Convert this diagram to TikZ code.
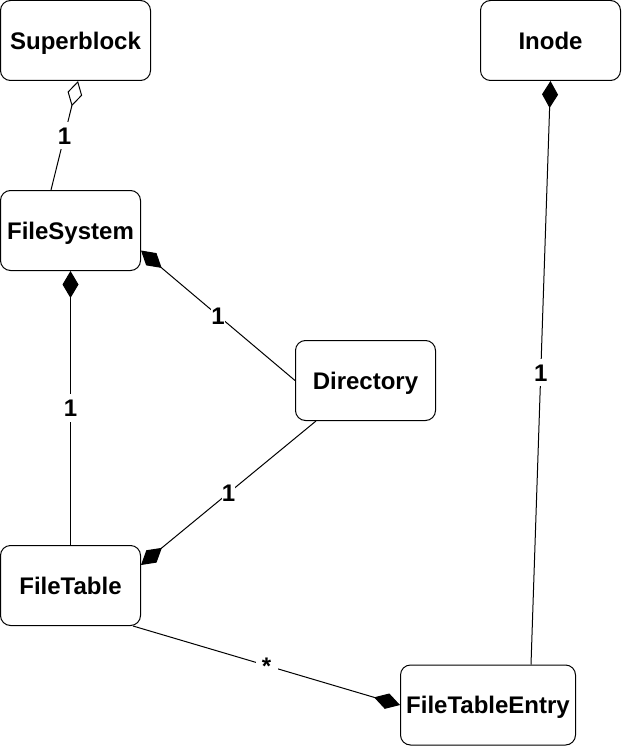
\documentclass[tikz,border=0pt]{standalone}
\usepackage{fontspec}
\setmainfont{Liberation Sans}
\usetikzlibrary{arrows.meta}
\tikzset{
  cls/.style={draw=black, line width=1pt, rounded corners=10pt, fill=white,
    font=\fontsize{24}{28}\selectfont\bfseries, inner sep=0pt,
    text height=17.2pt, text depth=0pt},
  conn/.style={draw=black, line width=1pt},
  comp/.style={conn, -{Diamond[length=27pt,width=16pt,fill=black]}},
  aggr/.style={conn, -{Diamond[open,length=26pt,width=15pt,fill=white]}},
  mult/.style={fill=white, inner xsep=0pt, inner ysep=5pt, font=\fontsize{24}{28}\selectfont\bfseries,
    text height=17.2pt, text depth=0pt}
}
\begin{document}
\begin{tikzpicture}[x=1pt,y=-1pt]
\useasboundingbox (0,0) rectangle (621,746);
\node[cls, minimum width=150pt, minimum height=80pt] (sb) at (75.5,40.5) {Superblock};
\node[cls, minimum width=140pt, minimum height=80pt] (ino) at (550.5,40.5) {Inode};
\node[cls, minimum width=140pt, minimum height=80pt] (fs) at (70.5,230.5) {FileSystem};
\node[cls, minimum width=140pt, minimum height=80pt] (dir) at (365.5,380.5) {Directory};
\node[cls, minimum width=140pt, minimum height=80pt] (ft) at (70.5,585.5) {FileTable};
\node[cls, minimum width=175pt, minimum height=80pt] (fte) at (488,705) {FileTableEntry};

\draw[aggr] ([xshift=51pt]fs.north west) -- node[mult]{1} ([xshift=78pt]sb.south west);
\draw[comp] (ft.north) -- node[mult]{1} (fs.south);
\draw[comp] (dir.west) -- node[mult]{1} ([yshift=-20pt]fs.east);
\draw[comp] ([xshift=21pt]dir.south west) -- node[mult]{1} ([yshift=-20pt]ft.north east);
\draw[comp] ([xshift=-8pt]ft.south east) -- node[mult, minimum width=22pt, inner ysep=1pt, yshift=0pt]{*} (fte.west);
\draw[comp] ([xshift=131pt]fte.north west) -- node[mult]{1} (ino.south);
\end{tikzpicture}
\end{document}
